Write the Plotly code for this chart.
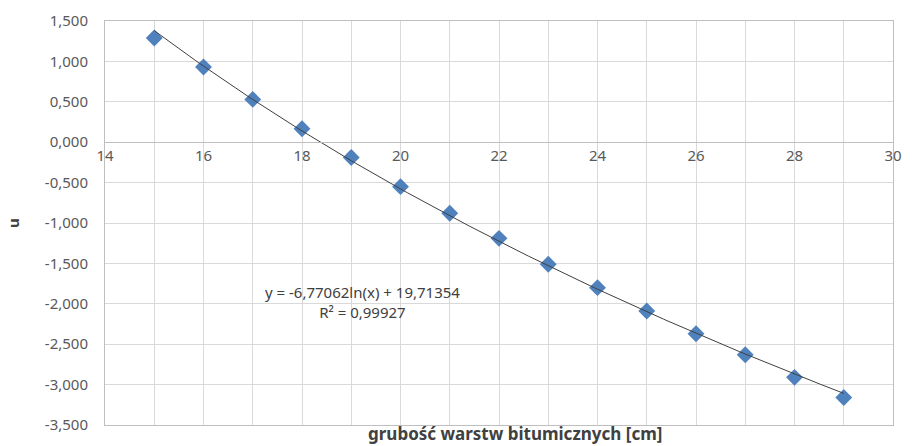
import numpy as np
import plotly.graph_objects as go

# data
x_vals = [15, 16, 17, 18, 19, 20, 21, 22, 23, 24, 25, 26, 27, 28, 29]
u_vals = [1.29, 0.93, 0.53, 0.166, -0.19, -0.55, -0.88, -1.19, -1.51, -1.80, -2.09, -2.37, -2.63, -2.91, -3.16]
x_ticks = [14, 16, 18, 20, 22, 24, 26, 28, 30]
y_ticks = [1.5, 1.0, 0.5, 0.0, -0.5, -1.0, -1.5, -2.0, -2.5, -3.0, -3.5]
eq_text = "y = -6,77062ln(x) + 19,71354"
r2_text = "R² = 0,99927"
x_title = "grubość warstw bitumicznych [cm]"
y_title = "u"

# logarithmic trendline fitted to the data
coef = np.polyfit(np.log(x_vals), u_vals, 1)
tx = np.linspace(min(x_vals), max(x_vals), 200)
ty = coef[0] * np.log(tx) + coef[1]

font = "Noto Sans"
grey = "#595959"
grid = "#d9d9d9"
fs = 15

fig = go.Figure()
fig.add_trace(go.Scatter(x=tx, y=ty, mode="lines", xaxis="x2",
                         line=dict(color="#404040", width=1), hoverinfo="skip", showlegend=False))
fig.add_trace(go.Scatter(x=x_vals, y=u_vals, mode="markers",
                         marker=dict(symbol="diamond", size=13, color="#4F81BD",
                                     line=dict(color="#4F81BD", width=0)),
                         showlegend=False))

# axis crossing position (y=0) as fraction of plot height
ymin, ymax = -3.5, 1.5
cross = (0 - ymin) / (ymax - ymin)

fig.update_layout(
    width=912, height=446,
    margin=dict(l=105, r=10, t=20, b=21),
    paper_bgcolor="white", plot_bgcolor="white",
    font=dict(family=font, size=fs, color=grey),
    xaxis=dict(range=[14, 30], dtick=1, showgrid=True, gridcolor=grid, gridwidth=1,
               showticklabels=False, showline=True, linecolor="#bfbfbf", mirror=True,
               zeroline=False, ticks=""),
    xaxis2=dict(range=[14, 30], overlaying="x", anchor="free", position=cross, side="bottom",
                tickvals=x_ticks, ticktext=[str(v) for v in x_ticks], showgrid=False,
                showline=True, linecolor="#bfbfbf", zeroline=False, ticks="",
                tickfont=dict(family=font, size=fs, color=grey)),
    yaxis=dict(range=[ymin, ymax], tickvals=y_ticks,
               ticktext=[f"{v:.3f}".replace(".", ",") for v in y_ticks],
               showgrid=True, gridcolor=grid, gridwidth=1, zeroline=False,
               showline=True, linecolor="#bfbfbf", mirror=True,
               ticks="outside", ticklen=13, tickcolor="rgba(0,0,0,0)",
               tickfont=dict(family=font, size=fs, color=grey)),
)

fig.add_annotation(text=eq_text + "<br>" + r2_text, xref="paper", yref="paper",
                   x=(365 - 105) / 797, y=(425 - 302) / 405.3, align="center",
                   xanchor="center", yanchor="middle",
                   showarrow=False, font=dict(family=font, size=fs, color="#404040"))
fig.add_annotation(text="<b>" + x_title + "</b>", xref="paper", yref="paper",
                   x=(520 - 105) / 797, y=(425 - 446) / 405.3, xanchor="center", yanchor="bottom",
                   borderpad=0, showarrow=False, font=dict(family=font, size=17, color="#404040"))
fig.add_annotation(text="<b>" + y_title + "</b>", xref="paper", yref="paper",
                   x=(12 - 105) / 797, y=0.5, textangle=-90, xanchor="center", yanchor="middle",
                   showarrow=False, font=dict(family=font, size=fs, color="#404040"))

fig.write_html("out.html")
